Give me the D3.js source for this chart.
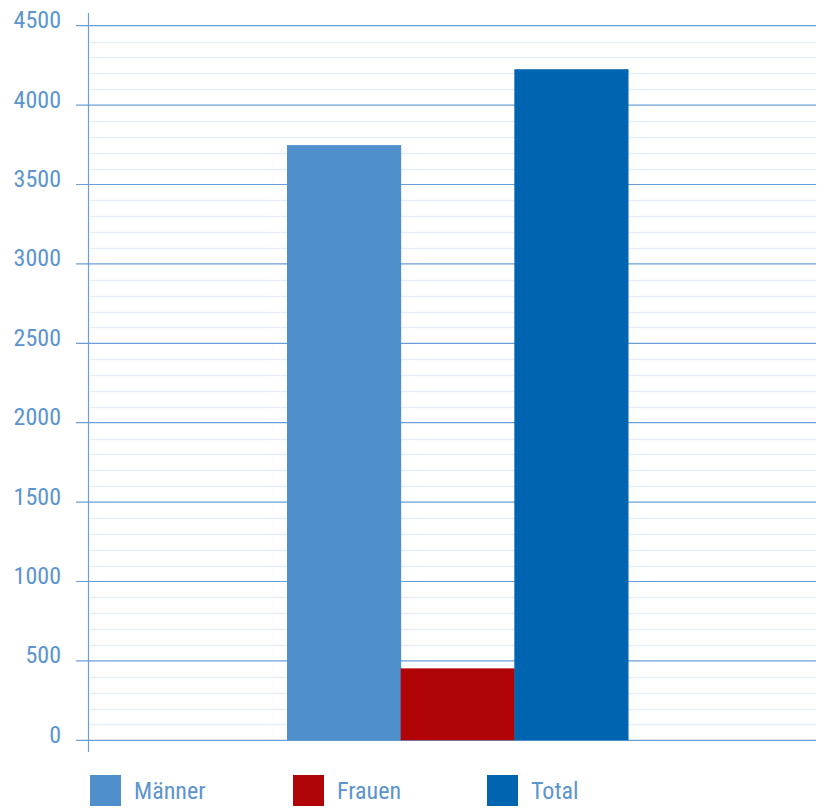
<!DOCTYPE html>
<html><head><meta charset="utf-8">
<script src="https://cdn.jsdelivr.net/npm/d3@7"></script>
<style>
html,body{margin:0;padding:0;background:#fff;}
svg text{font-family:"Liberation Sans Narrow","Roboto Condensed","Open Sans",sans-serif;fill:#5b94cf;}
</style></head>
<body><svg id="c" width="824" height="810"></svg>
<script>
const series = ["Männer", "Frauen", "Total"];
const values = [3748, 453, 4226];
const colors = ["#4f8fcb", "#b00406", "#0065b0"];
const yTicks = [0, 500, 1000, 1500, 2000, 2500, 3000, 3500, 4000, 4500];
const minorTicks = d3.range(0, 4501, 100);

const svg = d3.select("#c");
const y = d3.scaleLinear().domain([0, 4500]).range([740.3, 25.7]);
const x = d3.scaleBand().domain(series).range([287, 628]).padding(0);
const xLeft = 88.5, xRight = 816;

// minor grid
svg.append("g").selectAll("line").data(minorTicks.filter(d => d % 500 !== 0)).join("line")
  .attr("x1", xLeft + 1).attr("x2", xRight)
  .attr("y1", d => Math.round(y(d)) + 0.5).attr("y2", d => Math.round(y(d)) + 0.5)
  .attr("stroke", "#e6edf7").attr("stroke-width", 1.5);

// major grid
svg.append("g").selectAll("line").data(yTicks).join("line")
  .attr("x1", 76).attr("x2", xRight)
  .attr("y1", d => y(d)).attr("y2", d => y(d))
  .attr("stroke", "#6a9fd6").attr("stroke-width", 1.2);

// y axis line
svg.append("line").attr("x1", xLeft).attr("x2", xLeft).attr("y1", 13).attr("y2", 752)
  .attr("stroke", "#6a9fd6").attr("stroke-width", 1.2);

// labels
svg.append("g").selectAll("text").data(yTicks).join("text")
  .attr("x", 61).attr("y", d => y(d) + 2.5)
  .attr("text-anchor", "end").attr("font-size", 24)
  .text(d => d);

// bars
svg.append("g").selectAll("rect").data(values).join("rect")
  .attr("x", (d, i) => x(series[i]))
  .attr("width", x.bandwidth() + 0.5)
  .attr("y", d => y(d))
  .attr("height", d => y(0) - y(d))
  .attr("fill", (d, i) => colors[i]);

// legend
const legX = [90, 293, 487];
const lg = svg.append("g").selectAll("g").data(series).join("g")
  .attr("transform", (d, i) => `translate(${legX[i]},775)`);
lg.append("rect").attr("width", 31).attr("height", 31).attr("fill", (d, i) => colors[i]);
lg.append("text").attr("x", 44).attr("y", 24).attr("font-size", 24).text(d => d);
</script></body></html>
